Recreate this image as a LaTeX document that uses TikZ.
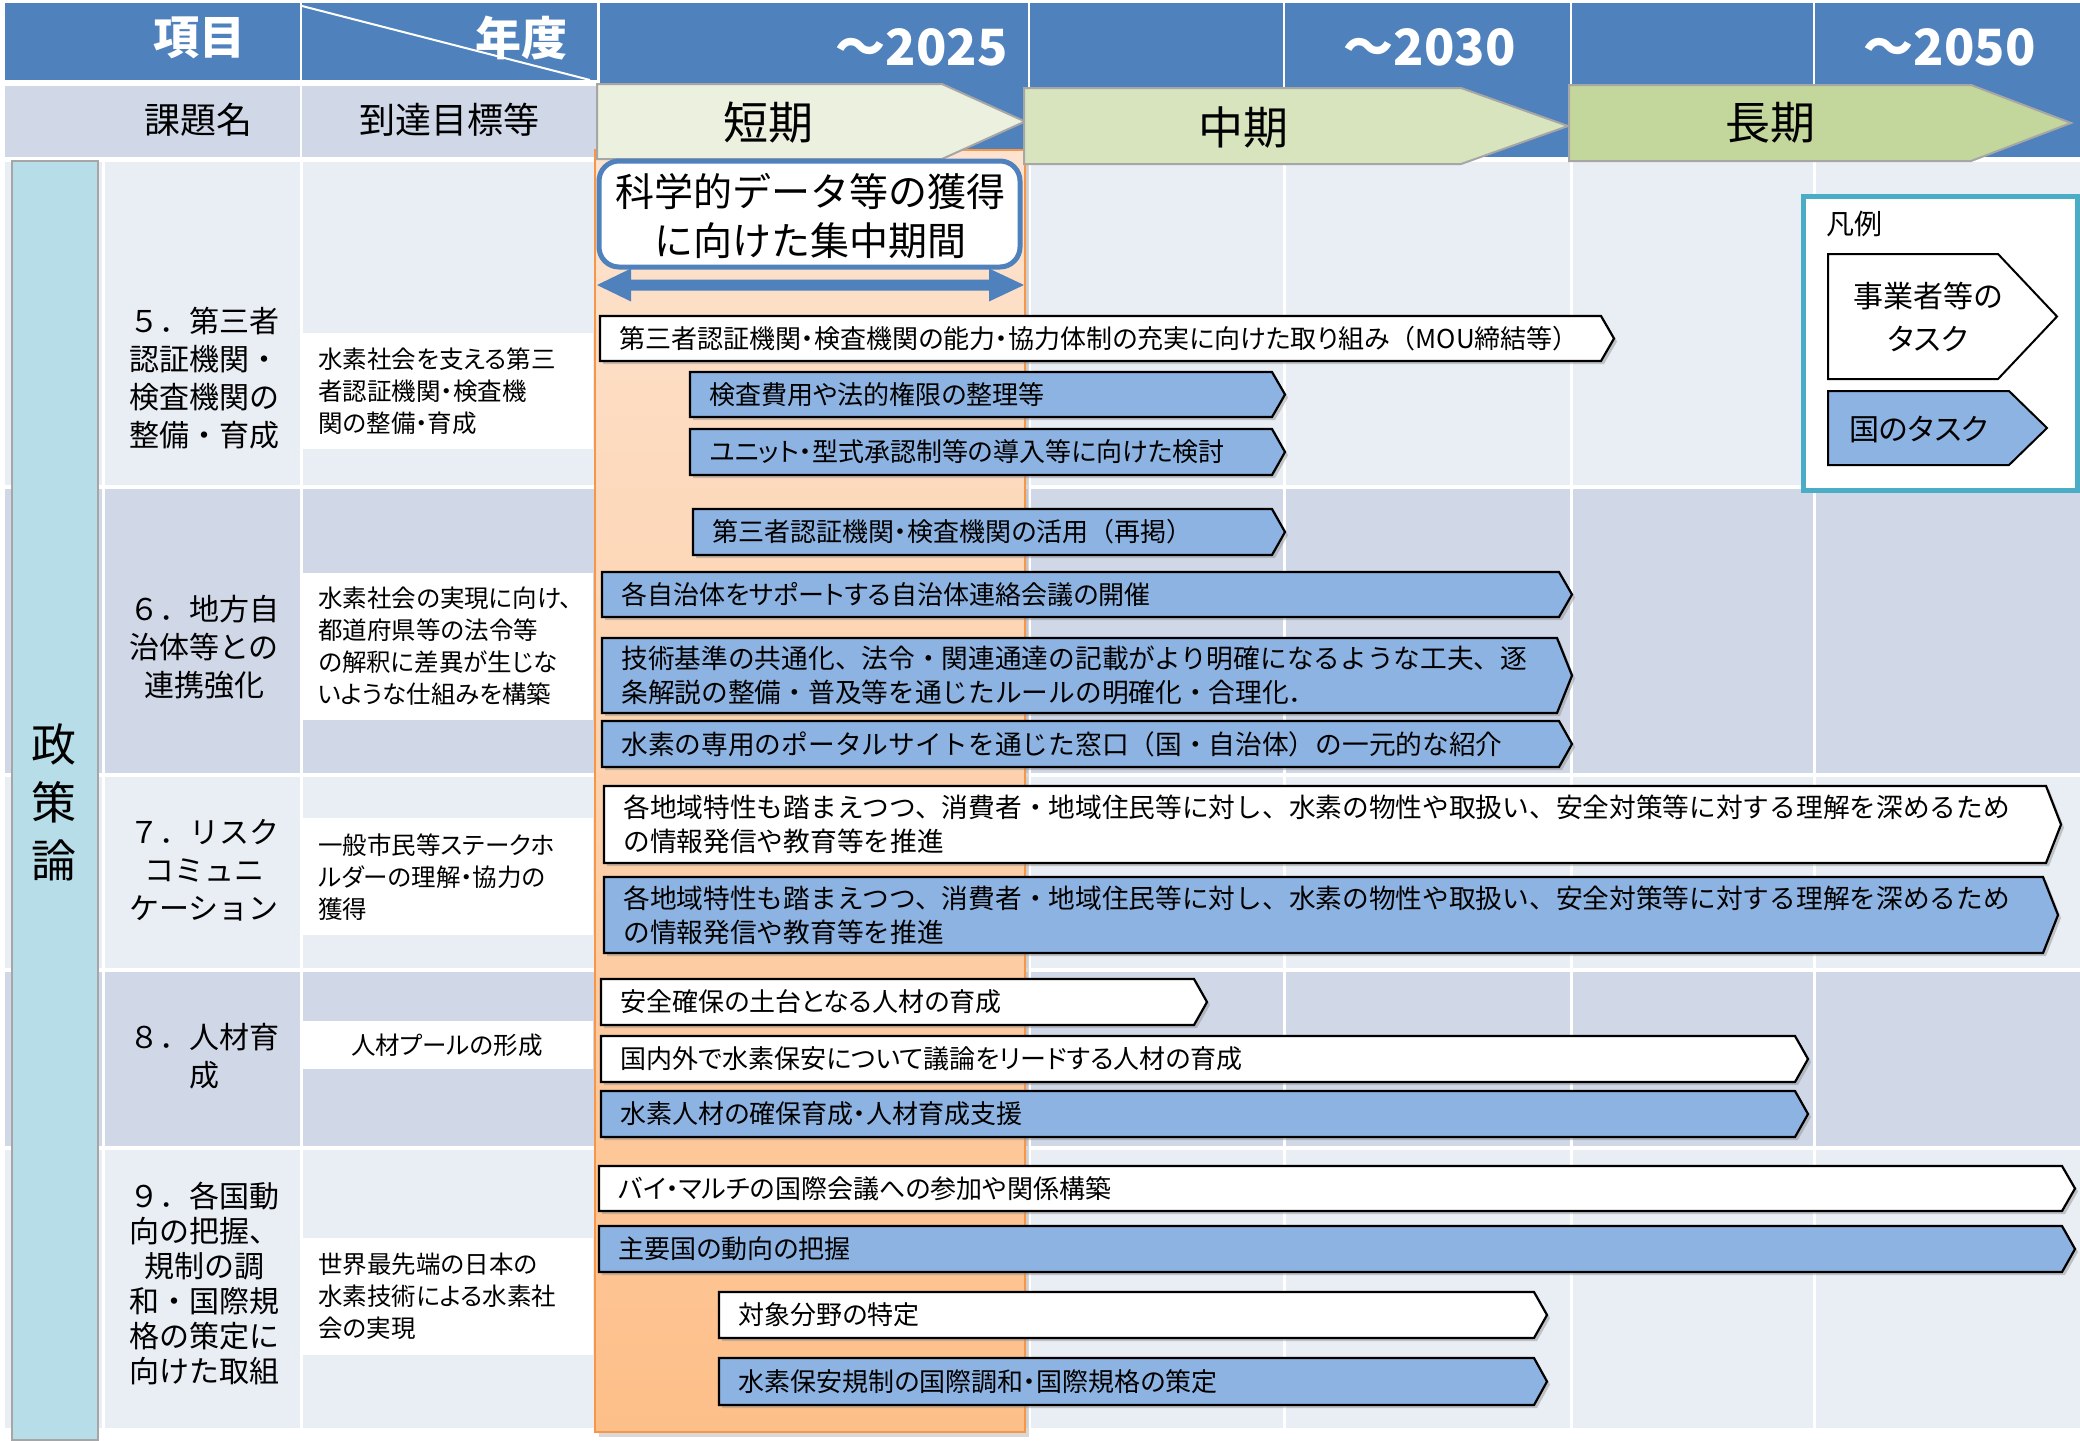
\documentclass[tikz,border=0pt]{standalone}
\usepackage{fontspec}
\setmainfont{Noto Sans CJK JP}
\newfontfamily\jpp[RawFeature=+palt]{Noto Sans CJK JP}
\newfontfamily\jpf{Noto Sans CJK JP}
\usetikzlibrary{calc}
\definecolor{hdrblue}{HTML}{4F81BD}
\definecolor{rowdark}{HTML}{D0D8E8}
\definecolor{rowlight}{HTML}{E9EDF4}
\definecolor{policyc}{HTML}{B7DEE8}
\definecolor{taskblue}{HTML}{8DB3E2}
\definecolor{orangetop}{HTML}{FDE3CF}
\definecolor{orangebot}{HTML}{FDBF89}
\definecolor{orangeedge}{HTML}{F79646}
\definecolor{tankic}{HTML}{EBF1DE}
\definecolor{chukic}{HTML}{D7E4BD}
\definecolor{chokic}{HTML}{C3D69B}
\definecolor{legendc}{HTML}{4BACC6}
\tikzset{
 hdrtxt/.style={text=white, font=\fontsize{23pt}{26pt}\selectfont\bfseries, inner sep=0pt},
 yeartxt/.style={text=white, font=\fontsize{25pt}{28pt}\selectfont\bfseries, inner sep=0pt, anchor=east},
 subhdr/.style={font=\fontsize{18pt}{20pt}\selectfont, inner sep=0pt},
 periodshape/.style={draw=black!35, line width=1pt},
 periodtxt/.style={font=\fontsize{22.5pt}{25pt}\selectfont, inner sep=0pt},
 topic/.style={font=\fontsize{15pt}{19pt}\selectfont, align=center, inner sep=0pt},
 goal/.style={font=\jpp\fontsize{12.25pt}{16pt}\selectfont, align=left, anchor=west, inner sep=0pt},
 whitebar/.style={fill=white, draw=black, line width=1.1pt},
 bluebar/.style={fill=taskblue, draw=black, line width=1.1pt},
 barshadow/.style={fill=black!45, opacity=0.45},
 tasktxt/.style={font=\jpp\fontsize{13pt}{16.5pt}\selectfont, align=left, anchor=west, inner sep=0pt},
 tasktxtf/.style={font=\fontsize{13.35pt}{17pt}\selectfont, align=left, anchor=west, inner sep=0pt},
 legtxt/.style={font=\jpp\fontsize{15pt}{21.5pt}\selectfont, inner sep=0pt},
}
% name, bar style, text style, x1, y1, xtip, y2, depth, text
\newcommand\tbar[9]{%
 \fill[barshadow] (#4+3,#5+3) -- (#6-#8+3,#5+3) -- (#6+3,{(#5+#7)/2+3}) -- (#6-#8+3,#7+3) -- (#4+3,#7+3) -- cycle;
 \path[#2] (#4,#5) -- (#6-#8,#5) -- (#6,{(#5+#7)/2}) -- (#6-#8,#7) -- (#4,#7) -- cycle;
 \node[#3] (#1) at (#4+19,{(#5+#7)/2}) {#9};
}
\begin{document}
\begin{tikzpicture}[x=0.5pt,y=-0.5pt]
\useasboundingbox (0,0) rectangle (2080,1440);
\fill[white] (0,0) rectangle (2080,1440);
% header row 1
\fill[hdrblue] (5,3) rectangle (300,80);
\fill[hdrblue] (302,3) rectangle (597,80);
\fill[hdrblue] (600,3) rectangle (2080,157);
\foreach \x in {1029,1284,1571,1814} \draw[white,line width=1.1pt] (\x,3) -- (\x,157);
\draw[white, line width=1pt] (302,6) -- (590,80);
\node[hdrtxt] (koumoku) at (199,38) {項目};
\node[hdrtxt] (nendo) at (521,38) {年度};
\node[yeartxt] (y2025) at (1008,47) {～2025};
\node[yeartxt] (y2030) at (1516,47) {～2030};
\node[yeartxt] (y2050) at (2036,47) {～2050};
% header row 2
\fill[rowdark] (5,86) rectangle (300,157);
\fill[rowdark] (302,86) rectangle (597,157);
\node[subhdr] (kadai) at (198,120) {課題名};
\node[subhdr] (tou) at (449,120) {到達目標等};
% body rows
\foreach \a/\b/\c in {162/485/rowlight, 489/773/rowdark, 777/968/rowlight, 972/1146/rowdark, 1150/1428/rowlight}
  \fill[\c] (5,\a) rectangle (2080,\b);
\foreach \x in {103,301,1029,1284,1571,1814} \draw[white,line width=1.5pt] (\x,160) -- (\x,1430);
% policy column
\filldraw[fill=policyc, draw=black!35, line width=1pt] (12,161) rectangle (98,1440);
\node[font=\fontsize{22.5pt}{29pt}\selectfont, align=center, inner sep=0pt] (seisaku) at (54,802) {政\\策\\論};
% topics
\node[topic] (t5) at (204,378) {５．第三者\\認証機関・\\検査機関の\\整備・育成};
\node[topic] (t6) at (204,647) {６．地方自\\治体等との\\連携強化};
\node[topic] (t7) at (204,870) {７．リスク\\コミュニ\\ケーション};
\node[topic] (t8) at (204,1056) {８．人材育\\成};
\node[topic, font=\fontsize{15pt}{17.5pt}\selectfont] (t9) at (204,1283) {９．各国動\\向の把握、\\規制の調\\和・国際規\\格の策定に\\向けた取組};
% goals
\fill[white] (302,333) rectangle (593,449);
\fill[white] (302,573) rectangle (593,720);
\fill[white] (302,818) rectangle (593,935);
\fill[white] (302,1021) rectangle (593,1069);
\fill[white] (302,1238) rectangle (593,1355);
\node[goal] (g5) at (318,391) {水素社会を支える第三\\者認証機関・検査機\\関の整備・育成};
\node[goal] (g6) at (318,646) {水素社会の実現に向け、\\都道府県等の法令等\\の解釈に差異が生じな\\いような仕組みを構築};
\node[goal] (g7) at (318,877) {一般市民等ステークホ\\ルダーの理解・協力の\\獲得};
\node[goal, anchor=center] (g8) at (447,1045) {人材プールの形成};
\node[goal] (g9) at (318,1296) {世界最先端の日本の\\水素技術による水素社\\会の実現};
% orange band
\fill[black!30, opacity=0.5] (599,154) rectangle (1029,1437);
\shade[top color=orangetop, bottom color=orangebot] (595,150) rectangle (1025,1432);
\draw[orangeedge, line width=1.2pt] (595,150) rectangle (1025,1432);
% period arrows
\path[periodshape, fill=tankic] (597,84) -- (942,84) -- (1025,121.5) -- (942,159) -- (597,159) -- cycle;
\node[periodtxt] (tanki) at (768,123) {短期};
\path[periodshape, fill=chukic] (1024,88) -- (1461,88) -- (1568,126) -- (1461,164) -- (1024,164) -- cycle;
\node[periodtxt] (chuki) at (1243,127) {中期};
\path[periodshape, fill=chokic] (1569,85) -- (1971,85) -- (2071,123) -- (1971,161) -- (1569,161) -- cycle;
\node[periodtxt] (choki) at (1770,123) {長期};
% focus box
\draw[fill=white, draw=hdrblue, line width=2.5pt, rounded corners=10pt] (599,161) rectangle (1020,267);
\node[font=\fontsize{19.5pt}{24.5pt}\selectfont, align=center, inner sep=0pt] (focus) at (810,216) {科学的データ等の獲得\\に向けた集中期間};
\fill[hdrblue] (597,285) -- (631,268.5) -- (631,279.5) -- (989,279.5) -- (989,268.5) -- (1024,285) -- (989,301.5) -- (989,290.5) -- (631,290.5) -- (631,301.5) -- cycle;
% task bars
\tbar{b1}{whitebar}{tasktxt}{600}{316}{1614}{361}{13}{第三者認証機関・検査機関の能力・協力体制の充実に向けた取り組み{\jpf（}MOU締結等{\jpf ）}}
\tbar{b2}{bluebar}{tasktxt}{690}{372}{1285}{417}{13}{検査費用や法的権限の整理等}
\tbar{b3}{bluebar}{tasktxt}{690}{429}{1285}{475}{13}{ユニット・型式承認制等の導入等に向けた検討}
\tbar{b4}{bluebar}{tasktxt}{693}{509}{1285}{555}{13}{第三者認証機関・検査機関の活用{\jpf（}再掲{\jpf ）}}
\tbar{b5}{bluebar}{tasktxt}{602}{572}{1572}{617}{13}{各自治体をサポートする自治体連絡会議の開催}
\tbar{b6}{bluebar}{tasktxtf}{602}{638}{1572}{713}{15}{技術基準の共通化、法令・関連通達の記載がより明確になるような工夫、逐\\条解説の整備・普及等を通じたルールの明確化・合理化．}
\tbar{b7}{bluebar}{tasktxtf}{602}{721}{1572}{767}{13}{水素の専用のポータルサイトを通じた窓口（国・自治体）の一元的な紹介}
\tbar{b8}{whitebar}{tasktxtf}{604}{786}{2061}{863}{15}{各地域特性も踏まえつつ、消費者・地域住民等に対し、水素の物性や取扱い、安全対策等に対する理解を深めるため\\の情報発信や教育等を推進}
\tbar{b9}{bluebar}{tasktxtf}{604}{877}{2058}{953}{15}{各地域特性も踏まえつつ、消費者・地域住民等に対し、水素の物性や取扱い、安全対策等に対する理解を深めるため\\の情報発信や教育等を推進}
\tbar{b10}{whitebar}{tasktxt}{601}{979}{1207}{1025}{13}{安全確保の土台となる人材の育成}
\tbar{b11}{whitebar}{tasktxt}{601}{1036}{1808}{1082}{13}{国内外で水素保安について議論をリードする人材の育成}
\tbar{b12}{bluebar}{tasktxt}{601}{1091}{1808}{1137}{13}{水素人材の確保育成・人材育成支援}
\tbar{b13}{whitebar}{tasktxt}{599}{1166}{2075}{1211}{13}{バイ・マルチの国際会議への参加や関係構築}
\tbar{b14}{bluebar}{tasktxt}{599}{1226}{2075}{1272}{13}{主要国の動向の把握}
\tbar{b15}{whitebar}{tasktxt}{719}{1292}{1547}{1338}{13}{対象分野の特定}
\tbar{b16}{bluebar}{tasktxt}{719}{1358}{1547}{1405}{13}{水素保安規制の国際調和・国際規格の策定}
% legend
\filldraw[fill=white, draw=legendc, line width=2.5pt] (1803,196) rectangle (2077,490);
\node[font=\jpp\fontsize{14pt}{16pt}\selectfont, inner sep=0pt] (hanrei) at (1854,224) {凡例};
\path[whitebar, line width=1pt] (1828,254) -- (1998,254) -- (2057,316.5) -- (1998,379) -- (1828,379) -- cycle;
\node[legtxt, align=center] (lg1) at (1928,317) {事業者等の\\タスク};
\path[bluebar, line width=1pt] (1828,391) -- (2009,391) -- (2047,428) -- (2009,465) -- (1828,465) -- cycle;
\node[legtxt, anchor=west] (lg2) at (1849,429) {国のタスク};
\end{tikzpicture}
\end{document}
